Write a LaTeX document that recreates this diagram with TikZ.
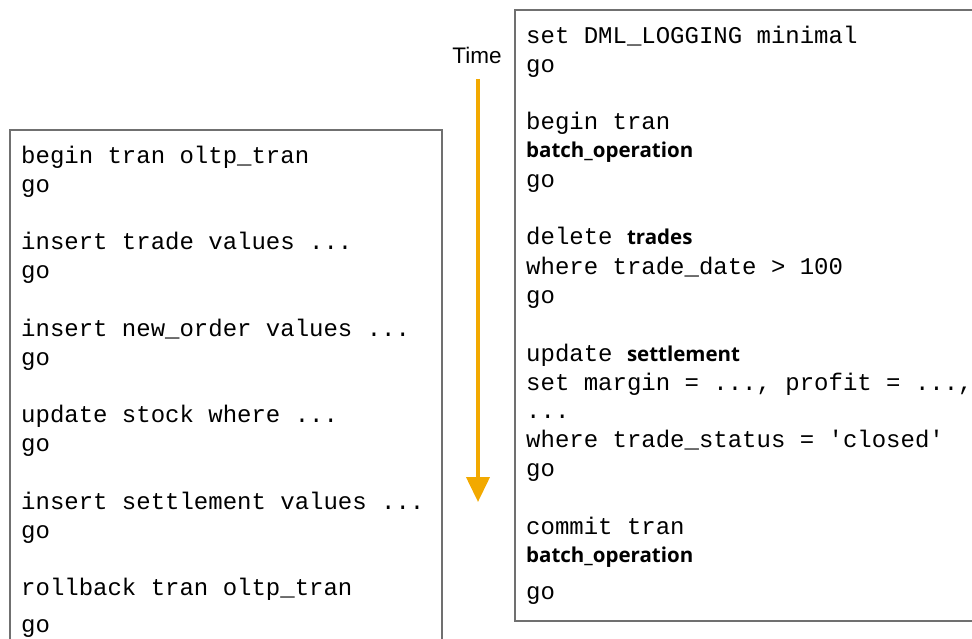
\documentclass[tikz,border=0pt]{standalone}
\usepackage{fontspec}
\setmainfont{Liberation Sans}
\setmonofont{Liberation Mono}
\newfontfamily\kwfont{Open Sans}
\usetikzlibrary{arrows.meta,positioning}
\definecolor{boxgray}{RGB}{112,112,112}
\definecolor{timeorange}{RGB}{242,169,0}
% bold table names inside the code lines
\newcommand\kw[1]{{\kwfont\bfseries\fontsize{20.5}{24}\selectfont #1}}

\begin{document}
\begin{tikzpicture}[x=1pt,y=-1pt,
  code/.style={anchor=base west,inner sep=0pt,
    font=\ttfamily\fontsize{24}{29}\selectfont},
  frame/.style={draw=boxgray,line width=1.5pt}]
  \useasboundingbox (0,0) rectangle (972,639);

  % oltp transaction (left)
  \draw[frame] (10,639)--(10,130)--(442,130)--(442,639);
  \foreach \y/\txt [count=\i] in {164/{begin tran oltp\_tran}, 193/go,
      250/{insert trade values ...}, 279/go,
      336/{insert new\_order values ...}, 365/go,
      422/{update stock where ...}, 451/go,
      509/{insert settlement values ...}, 538/go,
      595/{rollback tran oltp\_tran}, 632/go}
    \node[code] (l\i) at (21,\y) {\txt};

  % time axis
  \node[anchor=base,font=\fontsize{22.5}{26}\selectfont] (time) at (477,64) {Time};
  \coordinate (t0) at (478,79);
  \coordinate (t1) at (478,502);
  \draw[timeorange,line width=4pt,-{Triangle[width=23pt,length=25pt]}] (t0)--(t1);

  % batch operation (right)
  \draw[frame] (972,10)--(515,10)--(515,621)--(972,621);
  \node[code] (r1) at (526,44) {set DML\_LOGGING minimal};
  \node[code] (r2) at (526,73) {go};
  \node[code] (r3) at (526,130) {begin tran};
  \node[code] (r4) at (526,158) {\kw{batch\_operation}};
  \node[code] (r5) at (526,188) {go};
  \node[code] (r6) at (526,245) {delete \kw{trades}};
  \node[code] (r7) at (526,274) {where trade\_date > 100};
  \node[code] (r8) at (526,303) {go};
  \node[code] (r9) at (526,361) {update \kw{settlement}};
  \node[code] (r10) at (526,390) {set margin = ..., profit = ...,};
  \node[code] (r11) at (526,418) {...};
  \node[code] (r12) at (526,447) {where trade\_status = 'closed'};
  \node[code] (r13) at (526,476) {go};
  \node[code] (r14) at (526,534) {commit tran};
  \node[code] (r15) at (526,562) {\kw{batch\_operation}};
  \node[code] (r16) at (526,599) {go};
\end{tikzpicture}
\end{document}
